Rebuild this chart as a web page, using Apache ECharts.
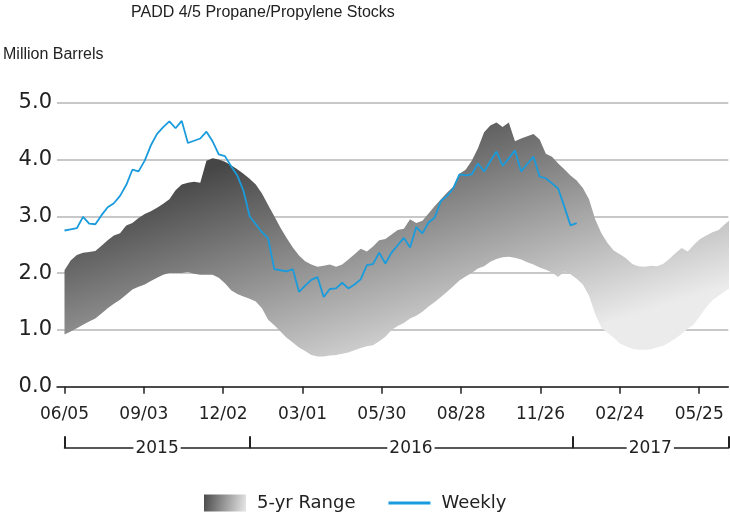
<!DOCTYPE html>
<html><head><meta charset="utf-8">
<script src="https://cdn.jsdelivr.net/npm/echarts@6/dist/echarts.min.js"></script>
<style>html,body{margin:0;padding:0;background:#fff}#c{width:730px;height:519px}</style>
</head><body><div id="c"></div>
<script>
const weekDates = [
'2015-06-05','2015-06-12','2015-06-19','2015-06-26','2015-07-03','2015-07-10','2015-07-17','2015-07-24','2015-07-31','2015-08-07','2015-08-14','2015-08-21','2015-08-28','2015-09-04','2015-09-11','2015-09-18','2015-09-25','2015-10-02','2015-10-09','2015-10-16','2015-10-23','2015-10-30','2015-11-06','2015-11-13','2015-11-20','2015-11-27','2015-12-04','2015-12-11','2015-12-18','2015-12-25',
'2016-01-01','2016-01-08','2016-01-15','2016-01-22','2016-01-29','2016-02-05','2016-02-12','2016-02-19','2016-02-26','2016-03-04','2016-03-11','2016-03-18','2016-03-25','2016-04-01','2016-04-08','2016-04-15','2016-04-22','2016-04-29','2016-05-06','2016-05-13','2016-05-20','2016-05-27','2016-06-03','2016-06-10','2016-06-17','2016-06-24','2016-07-01','2016-07-08','2016-07-15','2016-07-22','2016-07-29','2016-08-05','2016-08-12','2016-08-19','2016-08-26','2016-09-02','2016-09-09','2016-09-16','2016-09-23','2016-09-30','2016-10-07','2016-10-14','2016-10-21','2016-10-28','2016-11-04','2016-11-11','2016-11-18','2016-11-25','2016-12-02','2016-12-09','2016-12-16','2016-12-23','2016-12-30',
'2017-01-06','2017-01-13','2017-01-20','2017-01-27','2017-02-03','2017-02-10','2017-02-17','2017-02-24','2017-03-03','2017-03-10','2017-03-17','2017-03-24','2017-03-31','2017-04-07','2017-04-14','2017-04-21','2017-04-28','2017-05-05','2017-05-12','2017-05-19','2017-05-26','2017-06-02','2017-06-09','2017-06-16','2017-06-23','2017-06-30'
];
const rangeLow = [
0.92,0.97,1.03,1.09,1.15,1.20,1.29,1.38,1.46,1.53,1.62,1.71,1.76,1.80,1.86,1.92,1.97,2.00,2.00,2.00,2.02,1.99,1.97,1.97,1.97,1.92,1.82,1.70,1.63,1.59,
1.55,1.50,1.38,1.18,1.08,0.97,0.86,0.78,0.69,0.63,0.56,0.53,0.53,0.55,0.56,0.58,0.60,0.64,0.68,0.71,0.73,0.80,0.88,1.00,1.07,1.12,1.20,1.25,1.32,1.41,1.49,1.58,1.67,1.77,1.87,1.94,2.00,2.08,2.12,2.20,2.25,2.28,2.29,2.27,2.24,2.19,2.15,2.10,2.06,2.01,1.93,2.03,1.98,
1.90,1.80,1.60,1.28,1.04,0.95,0.86,0.76,0.71,0.67,0.65,0.65,0.66,0.69,0.72,0.78,0.85,0.93,1.02,1.10,1.25,1.40,1.52,1.60,1.68,1.75
];
const rangeHigh = [
2.05,2.22,2.32,2.36,2.37,2.39,2.48,2.58,2.66,2.70,2.84,2.88,2.97,3.04,3.09,3.15,3.22,3.30,3.46,3.56,3.59,3.61,3.59,3.98,4.02,4.00,3.96,3.90,3.83,3.75,
3.66,3.56,3.40,3.20,3.00,2.80,2.62,2.45,2.31,2.21,2.15,2.11,2.13,2.15,2.11,2.15,2.24,2.33,2.43,2.38,2.47,2.58,2.60,2.68,2.76,2.78,2.95,2.88,2.92,3.05,3.18,3.30,3.42,3.52,3.75,3.82,3.98,4.20,4.48,4.60,4.65,4.57,4.65,4.32,4.37,4.41,4.45,4.35,4.10,4.05,3.93,3.83,3.72,
3.63,3.50,3.30,2.95,2.70,2.53,2.40,2.33,2.26,2.16,2.12,2.11,2.13,2.12,2.16,2.25,2.35,2.44,2.38,2.50,2.60,2.66,2.72,2.76,2.86,2.95
];
const weekly = [
2.75,2.77,2.79,2.99,2.87,2.86,3.02,3.16,3.23,3.36,3.55,3.82,3.79,3.98,4.25,4.45,4.57,4.67,4.55,4.68,4.29,4.33,4.37,4.49,4.32,4.09,4.06,3.88,3.72,3.45,
3.00,2.86,2.72,2.61,2.07,2.05,2.03,2.07,1.67,1.78,1.88,1.93,1.58,1.72,1.73,1.83,1.73,1.80,1.89,2.14,2.16,2.36,2.17,2.36,2.49,2.62,2.45,2.81,2.70,2.89,2.98,3.27,3.36,3.49,3.74,3.72,3.74,3.93,3.79,3.97,4.14,3.89,4.02,4.16,3.79,3.92,4.05,3.70,3.67,3.58,3.49,3.17,2.84,
2.88
];
const tickDates = ['2015-06-05','2015-09-03','2015-12-02','2016-03-01','2016-05-30','2016-08-28','2016-11-26','2017-02-24','2017-05-25'];
const tickLabels = ['06/05','09/03','12/02','03/01','05/30','08/28','11/26','02/24','05/25'];
const yearBounds = ['2015-06-05','2016-01-01','2017-01-01','2017-06-27'];
const yearLabels = ['2015','2016','2017'];

const ts = s => Date.UTC(+s.slice(0,4), +s.slice(5,7)-1, +s.slice(8,10));
const DAY = 86400000;
const xMin = ts(weekDates[0]) - 8.5*DAY;
const xMax = ts(yearBounds[yearBounds.length-1]);
const tickTs = tickDates.map(ts);
const boundTs = yearBounds.map(ts);
const yearMid = yearLabels.map((y,i)=> (boundTs[i]+boundTs[i+1])/2);

const bandData = weekDates.map((d,i)=>[ts(d), rangeLow[i], rangeHigh[i]]);
const weeklyData = weekly.map((v,i)=>[ts(weekDates[i]), v]);

const FONT = 'DejaVu Sans';
const TXT = '#222';
const BLUE = '#1a9bdc';
const bandGrad = {type:'linear', x:67, y:213, x2:147, y2:468, global:true,
  colorStops:[{offset:0,color:'#464646'},{offset:1,color:'#ebebeb'}]};
const legendGrad = {type:'linear', x:0, y:0, x2:1, y2:0.4,
  colorStops:[{offset:0,color:'#4a4a4a'},{offset:1,color:'#e2e2e2'}]};

function renderBand(params, api) {
  if (params.dataIndex !== 0) return null;
  const pts = [];
  for (let i = 0; i < bandData.length; i++) pts.push(api.coord([bandData[i][0], bandData[i][2]]));
  for (let i = bandData.length - 1; i >= 0; i--) pts.push(api.coord([bandData[i][0], bandData[i][1]]));
  return {type:'polygon', shape:{points:pts}, style:{fill:bandGrad, stroke:null}};
}

const chart = echarts.init(document.getElementById('c'), null, {renderer:'canvas'});
chart.setOption({
  animation:false,
  backgroundColor:'#fff',
  title:[
    {text:'PADD 4/5 Propane/Propylene Stocks', left:131, top:5, padding:0,
     textStyle:{fontFamily:'Liberation Sans, Arial', fontSize:16, fontWeight:'normal', color:TXT}},
    {text:'Million Barrels', left:3, top:47, padding:0,
     textStyle:{fontFamily:'Liberation Sans, Arial', fontSize:16, fontWeight:'normal', color:TXT}}
  ],
  legend:{
    left:204, top:494, padding:0, itemWidth:42, itemHeight:17, itemGap:33,
    selectedMode:false, symbolKeepAspect:true,
    textStyle:{fontFamily:FONT, fontSize:18, color:TXT, width:110, padding:[0,0,0,6]},
    data:[
      {name:'5-yr Range', icon:'rect', itemStyle:{color:legendGrad, borderWidth:0}},
      {name:'Weekly', icon:'path://M0,0 L42,0 L42,3 L0,3 Z', itemStyle:{color:BLUE, borderWidth:0}}
    ]
  },
  grid:[
    {left:57, right:1.7, top:102.7, bottom:132.3, outerBoundsMode:'none'},
    {left:64.5, right:1.7, top:102.7, bottom:132.3, outerBoundsMode:'none'}
  ],
  xAxis:[
    {type:'value', gridIndex:0, min:xMin, max:xMax,
     axisLine:{show:true, onZero:false, lineStyle:{color:TXT, width:1.5}},
     axisTick:{show:true, customValues:tickTs, length:7, lineStyle:{color:TXT, width:1.5}},
     axisLabel:{customValues:tickTs, margin:19, fontFamily:FONT, fontSize:17, color:TXT,
       formatter:v=>{const i=tickTs.indexOf(v); return i>=0?tickLabels[i]:'';}},
     splitLine:{show:false}},
    {type:'value', gridIndex:1, min:boundTs[0], max:xMax, position:'bottom', offset:61.5,
     axisLine:{show:true, onZero:false, lineStyle:{color:TXT, width:1.5}},
     axisTick:{show:true, inside:true, customValues:boundTs, length:12, lineStyle:{color:TXT, width:2}},
     axisLabel:{customValues:yearMid, margin:0, verticalAlign:'middle', backgroundColor:'#fff', padding:[0,2],
       fontFamily:FONT, fontSize:17, color:TXT,
       formatter:v=>{const i=yearMid.indexOf(v); return i>=0?yearLabels[i]:'';}},
     splitLine:{show:false}}
  ],
  yAxis:[
    {type:'value', gridIndex:0, min:0, max:5, interval:1,
     axisLine:{show:false}, axisTick:{show:false},
     axisLabel:{formatter:v=>v.toFixed(1), fontFamily:FONT, fontSize:21, color:TXT, margin:5, padding:[3,0,0,0]},
     splitLine:{lineStyle:{color:'#c8c8c8', width:2}}},
    {type:'value', gridIndex:1, min:0, max:5, show:false}
  ],
  series:[
    {name:'5-yr Range', type:'custom', xAxisIndex:0, yAxisIndex:0, data:bandData,
     encode:{x:0, y:[1,2]}, renderItem:renderBand, clip:true, silent:true,
     itemStyle:{color:'#777'}},
    {name:'Weekly', type:'line', xAxisIndex:0, yAxisIndex:0, data:weeklyData,
     symbol:'none', lineStyle:{color:BLUE, width:1.8}, itemStyle:{color:BLUE}, silent:true, z:3}
  ]
});
</script></body></html>
